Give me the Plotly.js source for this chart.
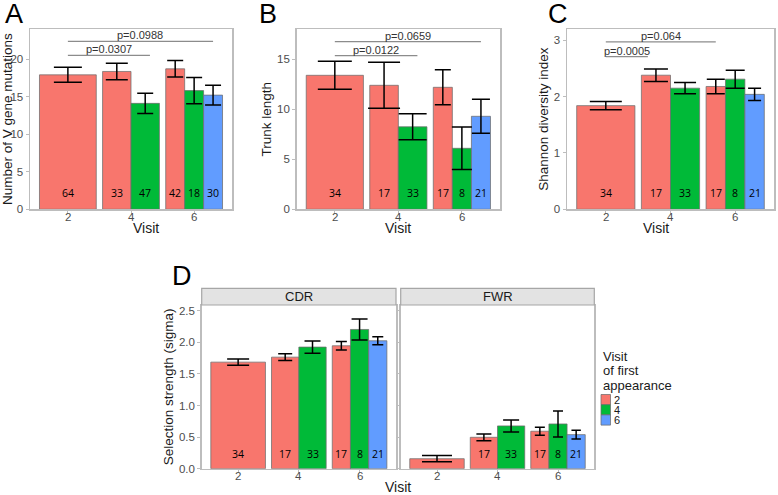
<!DOCTYPE html>
<html><head><meta charset="utf-8">
<script src="https://cdn.plot.ly/plotly-3.0.1.min.js"></script>
<style>body{margin:0;background:#fff;} #chart{width:778px;height:495px;}</style>
</head><body><div id="chart"></div>
<script>
// ---------- DATA ----------
const visits = ['2', '4', '6'];
const groups = ['2', '4', '6'];
const facets = ['CDR', 'FWR'];
const legendTitleLines = ['Visit', 'of first', 'appearance'];

// A: Number of V gene mutations (mean, error, n) by group of first appearance
const mutMean2 = [17.9, 18.35, 18.7], mutMean4 = [null, 14.1, 15.8], mutMean6 = [null, null, 15.2];
const mutErr2 = [1.0, 1.1, 1.1], mutErr4 = [null, 1.35, 1.75], mutErr6 = [null, null, 1.3];
const mutN2 = [64, 33, 42], mutN4 = [null, 47, 18], mutN6 = [null, null, 30];
const mutP = ['p=0.0307', 'p=0.0988'], mutPFrom = [1, 1], mutPTo = [2.3, 3.3], mutPY = [20.5, 22.35];

// B: Trunk length
const trkMean2 = [13.4, 12.4, 12.2], trkMean4 = [null, 8.25, 6.1], trkMean6 = [null, null, 9.3];
const trkErr2 = [1.4, 2.3, 1.75], trkErr4 = [null, 1.3, 2.13], trkErr6 = [null, null, 1.7];
const trkN2 = [34, 17, 17], trkN4 = [null, 33, 8], trkN6 = [null, null, 21];
const trkP = ['p=0.0122', 'p=0.0659'], trkPFrom = [1, 1], trkPTo = [2.3, 3.3], trkPY = [15.36, 16.76];

// C: Shannon diversity index
const shnMean2 = [1.84, 2.38, 2.18], shnMean4 = [null, 2.15, 2.31], shnMean6 = [null, null, 2.04];
const shnErr2 = [0.075, 0.11, 0.13], shnErr4 = [null, 0.1, 0.16], shnErr6 = [null, null, 0.11];
const shnN2 = [34, 17, 17], shnN4 = [null, 33, 8], shnN6 = [null, null, 21];
const shnP = ['p=0.0005', 'p=0.064'], shnPFrom = [1, 1], shnPTo = [1.65, 2.7], shnPY = [2.71, 2.97];

// D: Selection strength (sigma), CDR facet
const cdrMean2 = [1.686, 1.765, 1.945], cdrMean4 = [null, 1.924, 2.203], cdrMean6 = [null, null, 2.024];
const cdrErr2 = [0.05, 0.055, 0.066], cdrErr4 = [null, 0.098, 0.166], cdrErr6 = [null, null, 0.063];
const cdrN2 = [34, 17, 17], cdrN4 = [null, 33, 8], cdrN6 = [null, null, 21];

// D: FWR facet (no count shown on the visit-2 bar in the figure)
const fwrMean2 = [0.158, 0.497, 0.593], fwrMean4 = [null, 0.677, 0.708], fwrMean6 = [null, null, 0.539];
const fwrErr2 = [0.05, 0.053, 0.063], fwrErr4 = [null, 0.095, 0.205], fwrErr6 = [null, null, 0.068];
const fwrN2 = [null, 17, 17], fwrN4 = [null, 33, 8], fwrN6 = [null, null, 21];

// ---------- STYLE / LAYOUT ----------
const W = 778, H = 495;
const colors = ['#F8766D', '#00BA38', '#619CFF'];
const fx = p => p / W, fy = p => 1 - p / H;
const FONT = 'Liberation Sans, Arial, sans-serif';
const TXT = '#1a1a1a', TICK = '#4d4d4d';

const panels = [
  { id: '', letter: 'A', lx: 3, ly: 14, box: [30, 29, 232, 209.3], range: [0, 24], dtick: 5,
    ytitle: 'Number of V gene mutations', xtitle: true,
    mean: [mutMean2, mutMean4, mutMean6], err: [mutErr2, mutErr4, mutErr6], n: [mutN2, mutN4, mutN6],
    p: [mutP, mutPFrom, mutPTo, mutPY],
    cap: [[14, 11, 8], [0, 8, 8], [0, 0, 8]] },
  { id: '2', letter: 'B', lx: 257, ly: 14, box: [296.7, 29.3, 500, 209.3], range: [0, 18], dtick: 5,
    ytitle: 'Trunk length', xtitle: true,
    mean: [trkMean2, trkMean4, trkMean6], err: [trkErr2, trkErr4, trkErr6], n: [trkN2, trkN4, trkN6],
    p: [trkP, trkPFrom, trkPTo, trkPY],
    cap: [[17, 16, 8], [0, 14, 10], [0, 0, 9]] },
  { id: '3', letter: 'C', lx: 546, ly: 14, box: [567, 29, 774, 209.3], range: [0, 3.2], dtick: 1,
    ytitle: 'Shannon diversity index', xtitle: true,
    mean: [shnMean2, shnMean4, shnMean6], err: [shnErr2, shnErr4, shnErr6], n: [shnN2, shnN4, shnN6],
    p: [shnP, shnPFrom, shnPTo, shnPY],
    cap: [[16, 12, 9], [0, 11, 9.5], [0, 0, 6.5]] },
  { id: '4', letter: 'D', lx: 170, ly: 276, box: [201.7, 305, 396, 468.7], range: [0, 2.59], dtick: 0.5,
    ytitle: 'Selection strength (sigma)', xtitle: false, strip: facets[0],
    mean: [cdrMean2, cdrMean4, cdrMean6], err: [cdrErr2, cdrErr4, cdrErr6], n: [cdrN2, cdrN4, cdrN6],
    cap: [[11, 7, 5.5], [0, 8, 8], [0, 0, 5.5]] },
  { id: '5', letter: null, box: [400.7, 305, 594.3, 468.7], range: [0, 2.59], dtick: 0.5,
    ytitle: null, xtitle: false, strip: facets[1], hideY: true,
    mean: [fwrMean2, fwrMean4, fwrMean6], err: [fwrErr2, fwrErr4, fwrErr6], n: [fwrN2, fwrN4, fwrN6],
    cap: [[15, 7.5, 5], [0, 8, 5], [0, 0, 4.7]] }
];

const traces = [];
const layout = {
  width: W, height: H, margin: { l: 0, r: 0, t: 0, b: 0 },
  paper_bgcolor: '#ffffff', plot_bgcolor: '#ffffff',
  showlegend: false, bargap: 0, barmode: 'overlay',
  font: { family: FONT, color: TXT },
  shapes: [], annotations: []
};

panels.forEach(P => {
  const xa = 'x' + P.id, ya = 'y' + P.id;
  const pos = [[], [], []], wid = [[], [], []];
  visits.forEach((v, i) => {
    const present = [0, 1, 2].filter(g => P.mean[g][i] !== null);
    const w = 0.9 / present.length;
    [0, 1, 2].forEach(g => { pos[g][i] = null; wid[g][i] = w; });
    present.forEach((g, k) => { pos[g][i] = (i + 1) - 0.45 + w * (k + 0.5); });
  });
  groups.forEach((g, gi) => {
    traces.push({
      type: 'bar', x: pos[gi], y: P.mean[gi], width: wid[gi], xaxis: xa, yaxis: ya,
      marker: { color: colors[gi], line: { color: 'rgba(110,110,110,0.75)', width: 1 } },
      hoverinfo: 'skip', name: g
    });
  });
  groups.forEach((g, gi) => {
    visits.forEach((v, i) => {
      if (P.mean[gi][i] === null) return;
      traces.push({
        type: 'scatter', mode: 'markers', x: [pos[gi][i]], y: [P.mean[gi][i]], xaxis: xa, yaxis: ya,
        marker: { size: 1, color: 'rgba(0,0,0,0)' },
        error_y: { type: 'data', array: [P.err[gi][i]], visible: true, color: '#000000', thickness: 1.5, width: P.cap[gi][i] },
        hoverinfo: 'skip'
      });
      if (P.n[gi][i] !== null) {
        layout.annotations.push({
          xref: xa, yref: ya + ' domain', x: pos[gi][i], y: 0.09, text: String(P.n[gi][i]),
          showarrow: false, font: { size: 10.5, color: '#000000', family: 'Open Sans, sans-serif' }, yanchor: 'middle'
        });
      }
    });
  });
  const [x0, y0, x1, y1] = P.box;
  layout['xaxis' + P.id] = {
    domain: [fx(x0), fx(x1)], anchor: ya, range: [0.4, 3.6], tickvals: [1, 2, 3], showticklabels: false,
    showline: true, mirror: true, linecolor: '#bdbdbd', linewidth: 1.5, ticks: 'outside', ticklen: 3,
    tickcolor: '#bdbdbd', showgrid: false, zeroline: false
  };
  // x tick labels placed just under the ticks
  visits.forEach((v, i) => {
    layout.annotations.push({ xref: xa, yref: 'paper', x: i + 1, y: fy(y1 + 7.5), yanchor: 'middle', text: v,
      showarrow: false, font: { size: 11.5, color: TICK, family: FONT } });
  });
  if (P.xtitle) {
    layout.annotations.push({ xref: 'paper', yref: 'paper', x: fx((x0 + x1) / 2), y: fy(y1 + 18.5), yanchor: 'middle',
      text: 'Visit', showarrow: false, font: { size: 14, color: TXT, family: FONT } });
  }
  layout['yaxis' + P.id] = {
    domain: [fy(y1), fy(y0)], anchor: xa, range: P.range, dtick: P.dtick, tick0: 0,
    showline: true, mirror: true, linecolor: '#bdbdbd', linewidth: 1.5, ticks: 'outside', ticklen: 3,
    tickcolor: '#bdbdbd', showticklabels: !P.hideY, tickformat: P.dtick < 1 ? '.1f' : '',
    tickfont: { size: 11.5, color: TICK, family: FONT }, showgrid: false, zeroline: false,
    title: P.ytitle ? { text: P.ytitle, font: { size: 13.5, color: TXT, family: FONT }, standoff: 2 } : { text: '' }
  };
  if (P.p) {
    const [lab, from, to, yy] = P.p;
    lab.forEach((t, k) => {
      layout.shapes.push({ type: 'line', xref: xa, yref: ya, x0: from[k], x1: to[k], y0: yy[k], y1: yy[k],
        line: { color: '#8c8c8c', width: 1.2 } });
      layout.annotations.push({ xref: xa, yref: ya, x: (from[k] + to[k]) / 2, y: yy[k], yanchor: 'bottom', yshift: -2,
        text: t, showarrow: false, font: { size: 11, color: '#333333', family: FONT } });
    });
  }
  if (P.strip) {
    layout.shapes.push({ type: 'rect', xref: 'paper', yref: 'paper', x0: fx(x0), x1: fx(x1), y0: fy(y0), y1: fy(288.3),
      fillcolor: '#e3e3e3', line: { color: '#a6a6a6', width: 1.2 } });
    layout.annotations.push({ xref: 'paper', yref: 'paper', x: fx((x0 + x1) / 2), y: fy((288.3 + y0) / 2),
      text: P.strip, showarrow: false, yanchor: 'middle', font: { size: 13, color: TXT, family: FONT } });
  }
  if (P.letter) {
    layout.annotations.push({ xref: 'paper', yref: 'paper', x: fx(P.lx), y: fy(P.ly), xanchor: 'left', yanchor: 'middle',
      text: P.letter, showarrow: false, font: { size: 27, color: '#000000', family: FONT } });
  }
});

// shared x title for D
layout.annotations.push({ xref: 'paper', yref: 'paper', x: fx(398), y: fy(487), text: 'Visit', showarrow: false,
  yanchor: 'middle', font: { size: 14, color: TXT, family: FONT } });

// legend (manual)
legendTitleLines.forEach((t, k) => {
  layout.annotations.push({ xref: 'paper', yref: 'paper', x: fx(601), y: fy(356 + k * 14.5), xanchor: 'left', yanchor: 'middle',
    text: t, showarrow: false, font: { size: 13, color: TXT, family: FONT } });
});
groups.forEach((g, gi) => {
  const top = 394.5 + gi * 10.2;
  layout.shapes.push({ type: 'rect', xref: 'paper', yref: 'paper', x0: fx(601), x1: fx(610.5), y0: fy(top + 10.2), y1: fy(top),
    fillcolor: colors[gi], line: { color: 'rgba(110,110,110,0.75)', width: 1 } });
  layout.annotations.push({ xref: 'paper', yref: 'paper', x: fx(611.5), y: fy(top + 5.1), xanchor: 'left', yanchor: 'middle',
    text: g, showarrow: false, font: { size: 11, color: TXT, family: FONT } });
});

Plotly.newPlot('chart', traces, layout, { staticPlot: true, displayModeBar: false });
</script>
</body></html>
